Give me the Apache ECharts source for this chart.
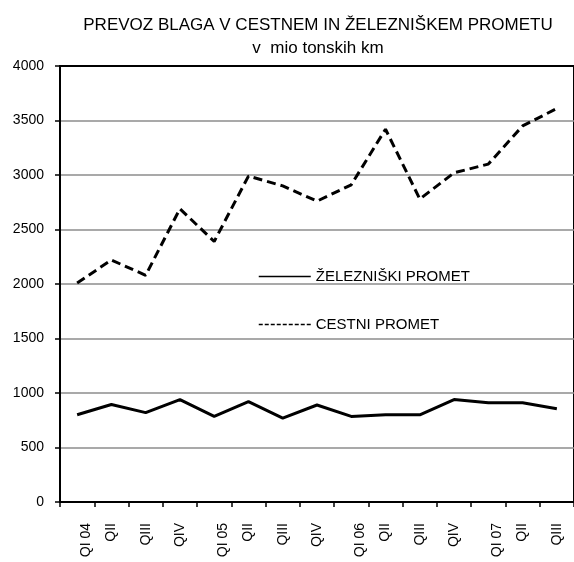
<!DOCTYPE html>
<html>
<head>
<meta charset="utf-8">
<script src="https://cdn.jsdelivr.net/npm/echarts@6/dist/echarts.min.js"></script>
<style>html,body{margin:0;padding:0;background:#fff}#c{width:574px;height:562px}</style>
</head>
<body>
<div id="c"></div>
<script>
var categories = ['QI 04','QII','QIII','QIV','QI 05','QII','QIII','QIV','QI 06','QII','QIII','QIV','QI 07','QII','QIII'];
var zeleznisko = [800, 895, 820, 940, 785, 920, 770, 890, 785, 800, 800, 940, 910, 910, 855];
var cestno = [2010, 2220, 2080, 2690, 2390, 2990, 2900, 2760, 2910, 3420, 2780, 3020, 3100, 3450, 3610];
var yTicks = [0, 500, 1000, 1500, 2000, 2500, 3000, 3500, 4000];
var titleLines = ['PREVOZ BLAGA V CESTNEM IN ŽELEZNIŠKEM PROMETU', 'v  mio tonskih km'];
var seriesNames = ['ŽELEZNIŠKI PROMET', 'CESTNI PROMET'];

var FONT = 'Liberation Sans, Arial, sans-serif';
var chart = echarts.init(document.getElementById('c'), null, {renderer: 'canvas'});
chart.setOption({
  animation: false,
  backgroundColor: '#fff',
  title: {
    text: titleLines.join('\n'),
    left: 313,
    textAlign: 'center',
    top: 9,
    textStyle: {fontFamily: FONT, fontSize: 17, fontWeight: 'normal', color: '#000', lineHeight: 23}
  },
  legend: {
    orient: 'vertical',
    left: 253,
    top: 264,
    itemWidth: 52,
    itemHeight: 14,
    itemGap: 33,
    textStyle: {fontFamily: FONT, fontSize: 15, color: '#000'},
    data: [
      {name: seriesNames[0], itemStyle: {opacity: 0}, lineStyle: {width: 1.5, type: 'solid', color: '#000'}},
      {name: seriesNames[1], itemStyle: {opacity: 0}, lineStyle: {width: 1.5, type: [4, 2], color: '#000'}}
    ]
  },
  grid: {
    left: 60, right: -4, top: 66, bottom: 60,
    show: true, borderColor: '#000', borderWidth: 2
  },
  xAxis: {
    type: 'category',
    data: categories,
    boundaryGap: true,
    axisLine: {lineStyle: {color: '#000', width: 2}},
    axisTick: {show: true, length: 5, lineStyle: {color: '#000', width: 1.5}},
    axisLabel: {
      interval: 0, rotate: 90, margin: 21, fontFamily: FONT, fontSize: 14, color: '#000', lineHeight: 18,
      formatter: function (v) { return v.indexOf(' ') > 0 ? '\n' + v : v; }
    },
    splitLine: {show: false}
  },
  yAxis: {
    type: 'value',
    min: yTicks[0],
    max: yTicks[yTicks.length - 1],
    interval: yTicks[1] - yTicks[0],
    axisLine: {show: true, lineStyle: {color: '#000', width: 2}},
    axisTick: {show: true, length: 5, lineStyle: {color: '#000', width: 1.5}},
    axisLabel: {margin: 16, fontFamily: FONT, fontSize: 14, color: '#000', formatter: function (v) { return String(v); }},
    splitLine: {show: true, showMaxLine: false, lineStyle: {color: '#8c8c8c', width: 1.5}}
  },
  series: [
    {
      name: seriesNames[0], type: 'line', data: zeleznisko,
      symbol: 'none', lineStyle: {color: '#000', width: 3, type: 'solid'}, itemStyle: {color: '#000'}
    },
    {
      name: seriesNames[1], type: 'line', data: cestno,
      symbol: 'none', lineStyle: {color: '#000', width: 3, type: [9, 5]}, itemStyle: {color: '#000'}
    }
  ]
});
</script>
</body>
</html>
